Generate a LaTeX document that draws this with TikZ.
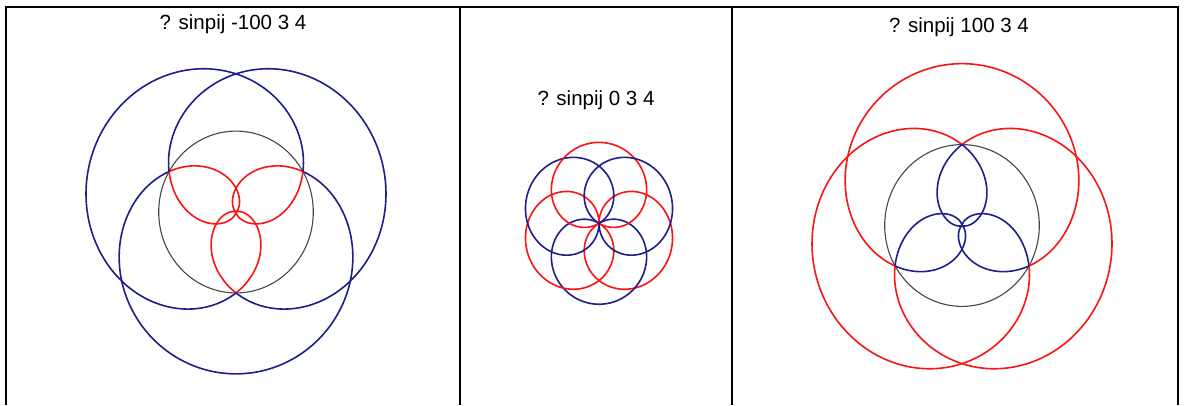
\documentclass[tikz,border=0pt]{standalone}
\usepackage{fontspec}
\setmainfont{Liberation Sans}
\definecolor{redc}{RGB}{250,20,20}
\definecolor{bluec}{RGB}{30,30,140}
\definecolor{blackc}{RGB}{70,70,70}
\tikzset{
  rule/.style={line width=2pt,black},
  curve/.style={line width=1.6pt,line join=round},
  zeroring/.style={line width=1.1pt,blackc},
  caption/.style={anchor=base,font=\fontsize{20.5}{24}\selectfont}
}
% #1 cx, #2 cy, #3 offset factor (-1, 0, 1)
\newcommand\rosepanel[3]{%
  \foreach \s/\e/\c in {0/240/redc,240/480/bluec,480/720/redc,720/960/bluec,960/1200/redc,1200/1440/bluec}{%
    \draw[curve,\c] plot[domain=\s:\e,samples=160]
      ({#1 + 77.3*(#3 + sin(3*\x/4))*sin(\x)},
       {#2 - 1.047*77.3*(#3 + sin(3*\x/4))*cos(\x)});
  }%
}
\begin{document}
\begin{tikzpicture}[x=1pt,y=-1pt]
\useasboundingbox (0,0) rectangle (1184,405);
\fill[white] (0,0) rectangle (1184,405);
% table rules
\draw[rule] (6,7.3) -- (1178,7.3);
\draw[rule] (6,6.3) -- (6,405);
\draw[rule] (460,7.3) -- (460,405);
\draw[rule] (732,7.3) -- (732,405);
\draw[rule] (1178,6.3) -- (1178,405);
% captions
\node[caption] (capL) at (233,29.3) {? sinpij -100 3 4};
\node[caption] (capM) at (596,105) {? sinpij 0 3 4};
\node[caption] (capR) at (959,32.3) {? sinpij 100 3 4};
% left panel
\draw[zeroring] (236,212) ellipse [x radius=77.3, y radius=80.9];
\rosepanel{236}{212}{-1}
% middle panel
\rosepanel{599}{223.3}{0}
% right panel
\draw[zeroring] (962,225.5) ellipse [x radius=77.3, y radius=80.9];
\rosepanel{962}{225.5}{1}
\end{tikzpicture}
\end{document}
